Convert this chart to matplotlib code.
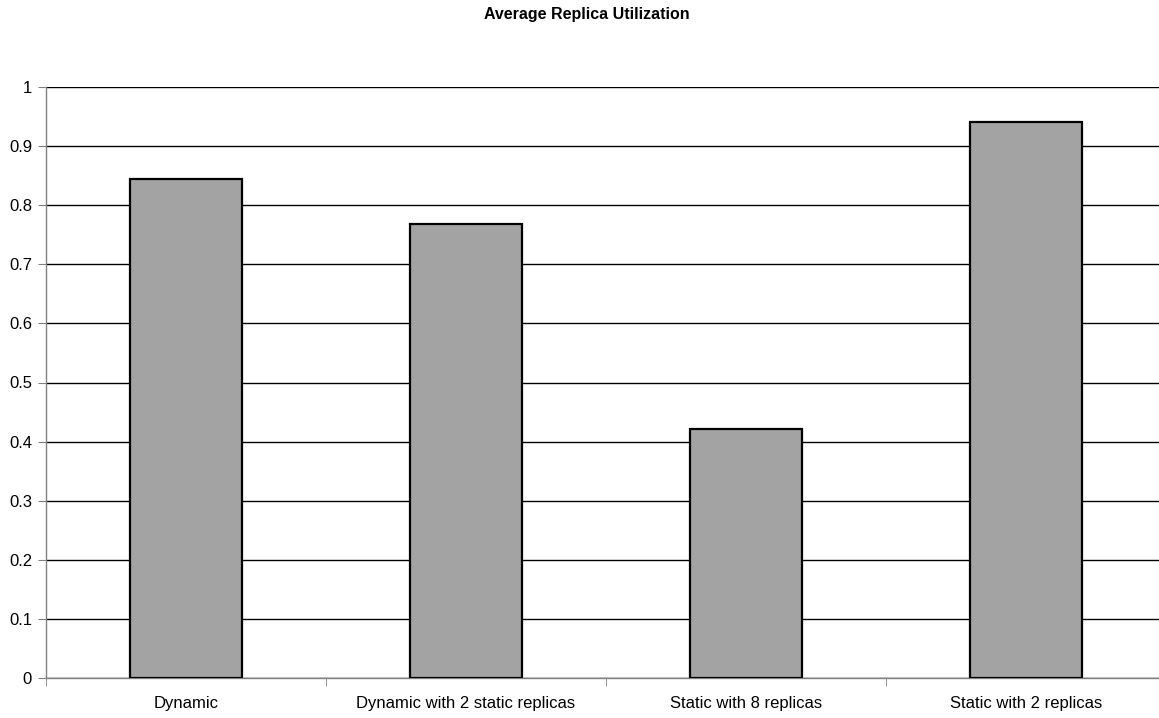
import matplotlib.pyplot as plt
import numpy as np

categories = ["Dynamic", "Dynamic with 2 static replicas", "Static with 8 replicas", "Static with 2 replicas"]
values = [0.844, 0.768, 0.421, 0.941]
y_ticks = [0, 0.1, 0.2, 0.3, 0.4, 0.5, 0.6, 0.7, 0.8, 0.9, 1]
y_labels = ["0", "0.1", "0.2", "0.3", "0.4", "0.5", "0.6", "0.7", "0.8", "0.9", "1"]

plt.rcParams['font.family'] = ['Liberation Sans', 'DejaVu Sans']

fig = plt.figure(figsize=(11.59, 7.18), dpi=100)
# plot area runs past the right edge of the image, as in the reference
ax = fig.add_axes([46/1159, 40/718, 1120/1159, (678-87)/718])

x = np.arange(len(categories))
ax.bar(x, values, width=0.40, color='#a3a3a3', edgecolor='black', linewidth=1.6, zorder=3)

ax.set_xlim(-0.5, len(categories) - 0.5)
ax.set_ylim(0, 1)
ax.set_yticks(y_ticks)
ax.set_yticklabels(y_labels)
ax.yaxis.grid(True, color='black', linewidth=1, zorder=0)

ax.set_xticks(x)
ax.set_xticklabels(categories)
ax.set_xticks(np.arange(len(categories) + 1) - 0.5, minor=True)
ax.tick_params(axis='x', which='major', length=0, pad=13, labelsize=12)
ax.tick_params(axis='x', which='minor', length=6, color='#808080', direction='out')
ax.tick_params(axis='y', length=6, color='#808080', direction='out', labelsize=12, pad=4)

for s in ['top', 'right']:
    ax.spines[s].set_visible(False)
for s in ['left', 'bottom']:
    ax.spines[s].set_color('#808080')
    ax.spines[s].set_linewidth(1)

fig.text(0.5 + 7/1159, 1 - 15/718, "Average Replica Utilization", ha='center', va='center',
         fontsize=11.5, fontweight='bold')

fig.savefig('out.png', dpi=100)
